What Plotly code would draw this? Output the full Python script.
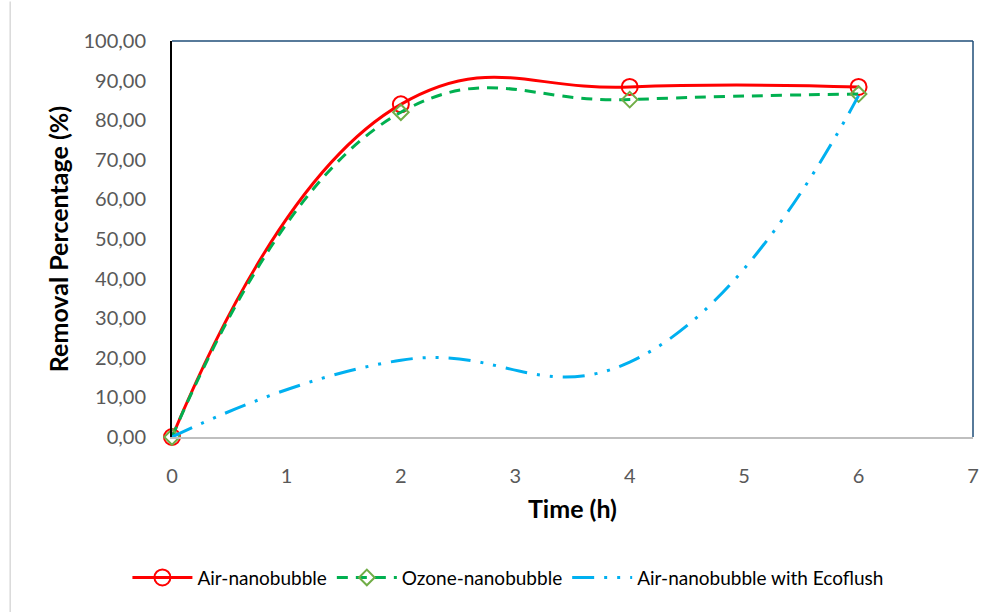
import plotly.graph_objects as go

time_h = [0, 2, 4, 6]
air_nb = [0.0, 84.0, 88.4, 88.4]
ozone_nb = [0.0, 82.0, 85.2, 86.6]
air_eco = [0.0, 19.4, 18.9, 86.2]

y_ticks = [0, 10, 20, 30, 40, 50, 60, 70, 80, 90, 100]
y_tick_text = ["0,00", "10,00", "20,00", "30,00", "40,00", "50,00", "60,00",
               "70,00", "80,00", "90,00", "100,00"]
x_ticks = [0, 1, 2, 3, 4, 5, 6, 7]

FONT = "Lato"

fig = go.Figure()
fig.add_trace(go.Scatter(
    x=time_h, y=air_nb, name="Air-nanobubble", mode="lines+markers", cliponaxis=False,
    line=dict(color="#FF0000", width=3, shape="spline", smoothing=1.3),
    marker=dict(symbol="circle-open", size=16, color="#FF0000", line=dict(width=2)),
))
fig.add_trace(go.Scatter(
    x=time_h, y=ozone_nb, name="Ozone-nanobubble", mode="lines+markers", cliponaxis=False,
    line=dict(color="#00B050", width=3, dash="11px,8px", shape="spline", smoothing=1.3),
    marker=dict(symbol="diamond-open", size=12, color="#70AD47", line=dict(width=2)),
))
fig.add_trace(go.Scatter(
    x=time_h, y=air_eco, name="Air-nanobubble with Ecoflush", mode="lines", cliponaxis=False,
    line=dict(color="#00B0F0", width=3, dash="22px,10px,3px,10px,3px,10px",
              shape="spline", smoothing=1.3),
))

fig.update_layout(
    width=993, height=612,
    margin=dict(l=172, r=20, t=41, b=175),
    paper_bgcolor="white", plot_bgcolor="white",
    font=dict(family=FONT, size=20, color="#595959"),
    showlegend=True,
    legend=dict(orientation="h", x=0.42, xanchor="center", y=-0.355, yanchor="middle",
                font=dict(family=FONT, size=19, color="#000000"), itemwidth=60),
    xaxis=dict(range=[0, 7], tickvals=x_ticks, showgrid=False, zeroline=False,
               showline=True, linecolor="#BFBFBF", linewidth=2,
               ticks="", ticklabelstandoff=20,
               tickfont=dict(family=FONT, size=20, color="#595959"),
               title=dict(text="<b>Time (h)</b>", standoff=14,
                          font=dict(family=FONT, size=25, color="#000000"))),
    yaxis=dict(range=[0, 100], tickvals=y_ticks, ticktext=y_tick_text,
               showgrid=False, zeroline=False, showline=True,
               linecolor="#000000", linewidth=2, ticks="", ticklabelstandoff=20,
               tickfont=dict(family=FONT, size=20, color="#595959"),
               title=dict(text="<b>Removal Percentage (%)</b>", standoff=8,
                          font=dict(family=FONT, size=25, color="#000000"))),
    shapes=[
        dict(type="line", xref="paper", yref="paper", x0=0, x1=1, y0=1, y1=1,
             line=dict(color="#1F4E79", width=1.5)),
        dict(type="line", xref="paper", yref="paper", x0=1, x1=1, y0=0, y1=1,
             line=dict(color="#1F4E79", width=1.5)),
        dict(type="line", xref="paper", yref="paper", x0=-0.202, x1=-0.202,
             y0=-0.45, y1=1.1, line=dict(color="#D9D9D9", width=1.5)),
    ],
)

fig.write_html("out.html")
